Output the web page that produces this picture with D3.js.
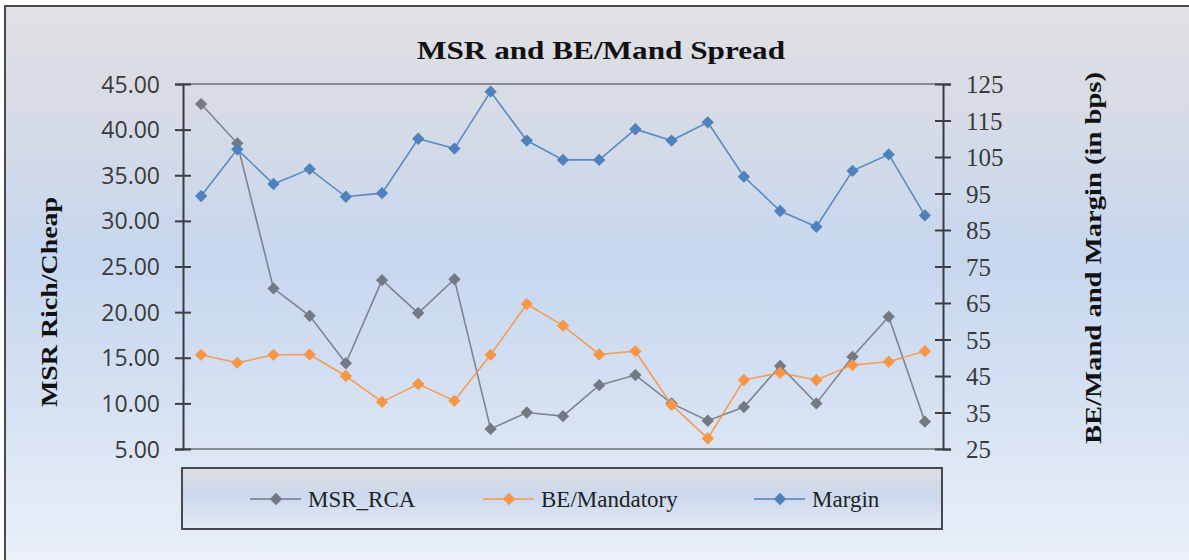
<!DOCTYPE html>
<html>
<head>
<meta charset="utf-8">
<script src="https://cdn.jsdelivr.net/npm/d3@7/dist/d3.min.js"></script>
<style>
  html, body { margin: 0; padding: 0; background: #fff; }
  svg { display: block; }
  .serif { font-family: "Liberation Serif", "DejaVu Serif", serif; }
</style>
</head>
<body>
<svg id="chart" width="1189" height="560"></svg>
<script>
// periods (no labels shown on the category axis)
const categories = ["1", "2", "3", "4", "5", "6", "7", "8", "9", "10", "11",
  "12", "13", "14", "15", "16", "17", "18", "19", "20", "21"];

// left axis series
const msrRca = [42.8, 38.5, 22.6, 19.6, 14.4, 23.5, 19.9, 23.6, 7.2, 9.0, 8.6,
  12.0, 13.1, 10.0, 8.1, 9.6, 14.1, 10.0, 15.1, 19.5, 8.0];

// right axis series (bps)
const beMandatory = [50.8, 48.6, 50.8, 50.9, 45.0, 37.9, 42.8, 38.2, 50.8, 64.7, 58.8,
  50.9, 51.8, 37.1, 27.9, 43.9, 45.9, 43.9, 48.0, 48.9, 51.8];
const margin = [94.3, 107.1, 97.6, 101.7, 94.1, 95.1, 110.0, 107.3, 122.9, 109.5, 104.2,
  104.2, 112.6, 109.5, 114.5, 99.6, 90.2, 85.9, 101.2, 105.7, 89.0];

const leftTicks = [5, 10, 15, 20, 25, 30, 35, 40, 45];
const rightTicks = [25, 35, 45, 55, 65, 75, 85, 95, 105, 115, 125];

const seriesNames = ["MSR_RCA", "BE/Mandatory", "Margin"];
const seriesColors = ["#737a84", "#f79646", "#4f81bd"];

const W = 1189, H = 560;
const plot = { left: 183, right: 943, top: 84, bottom: 449 };

const svg = d3.select("#chart");
const defs = svg.append("defs");

// chart background gradient
const bg = defs.append("linearGradient").attr("id", "bgGrad")
  .attr("x1", 0).attr("y1", 0).attr("x2", 0).attr("y2", 1);
[["0%", "#e0e1e5"], ["14%", "#d9dce4"], ["45%", "#c7d7ef"], ["75%", "#d8e3f3"], ["100%", "#ebf0f8"]]
  .forEach(([o, c]) => bg.append("stop").attr("offset", o).attr("stop-color", c));

const lg = defs.append("linearGradient").attr("id", "legGrad")
  .attr("x1", 0).attr("y1", 0).attr("x2", 0).attr("y2", 1);
[["0%", "#dcdde1"], ["45%", "#cbd8ee"], ["100%", "#e4eaf4"]]
  .forEach(([o, c]) => lg.append("stop").attr("offset", o).attr("stop-color", c));

svg.append("rect").attr("x", 5).attr("y", 6).attr("width", W).attr("height", H)
  .attr("fill", "url(#bgGrad)");

// outer frame (left and top edges visible)
svg.append("path")
  .attr("d", `M5,${H} V6 H${W}`)
  .attr("fill", "none").attr("stroke", "#4a4a4e").attr("stroke-width", 2);

// scales
const x = d3.scaleBand().domain(categories).range([plot.left, plot.right]);
const yL = d3.scaleLinear().domain([5, 45]).range([plot.bottom, plot.top]);
const yR = d3.scaleLinear().domain([25, 125]).range([plot.bottom, plot.top]);
const cx = d => x(d) + x.bandwidth() / 2;

// plot frame lines
svg.append("line").attr("x1", plot.left).attr("x2", plot.right)
  .attr("y1", plot.top).attr("y2", plot.top)
  .attr("stroke", "#6d7077").attr("stroke-width", 1.5);
svg.append("line").attr("x1", plot.left).attr("x2", plot.right)
  .attr("y1", plot.bottom).attr("y2", plot.bottom)
  .attr("stroke", "#6d7077").attr("stroke-width", 1.5);

// left axis
const axL = svg.append("g").attr("transform", `translate(${plot.left},0)`)
  .call(d3.axisLeft(yL).tickValues(leftTicks).tickSize(8).tickFormat(d3.format(".2f")));
axL.attr("font-family", null).attr("font-size", null);
axL.select(".domain").attr("stroke", "#3b3d42").attr("stroke-width", 2);
axL.selectAll(".tick line").attr("x1", -8).attr("x2", 8)
  .attr("stroke", "#3b3d42").attr("stroke-width", 2);
axL.selectAll(".tick text").attr("x", -23).attr("dy", "0.35em")
  .style("font-family", "'Open Sans', 'Noto Sans', sans-serif")
  .style("font-size", "23px").attr("fill", "#3a3a3a");

// right axis
const axR = svg.append("g").attr("transform", `translate(${plot.right},0)`)
  .call(d3.axisRight(yR).tickValues(rightTicks).tickSize(8));
axR.attr("font-family", null).attr("font-size", null);
axR.select(".domain").attr("stroke", "#3b3d42").attr("stroke-width", 2);
axR.selectAll(".tick line").attr("x1", -8).attr("x2", 8)
  .attr("stroke", "#3b3d42").attr("stroke-width", 2);
axR.selectAll(".tick text").attr("x", 23).attr("dy", "0.35em")
  .attr("class", "serif")
  .style("font-size", "25px").attr("fill", "#3a3a3a");
svg.selectAll(".domain").attr("fill", "none");

// titles
svg.append("text").attr("class", "serif").attr("x", 601).attr("y", 59)
  .attr("text-anchor", "middle")
  .attr("textLength", 368).attr("lengthAdjust", "spacingAndGlyphs")
  .style("font-weight", "bold").style("font-size", "26px").attr("fill", "#111")
  .text("MSR and BE/Mand Spread");

svg.append("text").attr("class", "serif").attr("transform", "translate(57,302) rotate(-90)")
  .attr("text-anchor", "middle")
  .attr("textLength", 210).attr("lengthAdjust", "spacingAndGlyphs")
  .style("font-weight", "bold").style("font-size", "24px").attr("fill", "#111")
  .text("MSR Rich/Cheap");

svg.append("text").attr("class", "serif").attr("transform", "translate(1101,258) rotate(-90)")
  .attr("text-anchor", "middle")
  .attr("textLength", 372).attr("lengthAdjust", "spacingAndGlyphs")
  .style("font-weight", "bold").style("font-size", "24px").attr("fill", "#111")
  .text("BE/Mand and Margin (in bps)");

// series
const diamond = d3.symbol().type(d3.symbolSquare).size(76);
const series = [
  { values: msrRca, y: yL, color: seriesColors[0] },
  { values: beMandatory, y: yR, color: seriesColors[1] },
  { values: margin, y: yR, color: seriesColors[2] },
];

series.forEach(s => {
  const pts = categories.map((c, i) => [cx(c), s.y(s.values[i])]);
  svg.append("path").datum(pts)
    .attr("fill", "none").attr("stroke", s.color).attr("stroke-width", 1.6)
    .attr("stroke-opacity", 0.9)
    .attr("d", d3.line());
  svg.append("g").selectAll("path").data(pts).join("path")
    .attr("d", diamond)
    .attr("transform", d => `translate(${d[0]},${d[1]}) rotate(45)`)
    .attr("fill", s.color);
});

// legend
const leg = svg.append("g");
leg.append("rect").attr("x", 182).attr("y", 468).attr("width", 760).attr("height", 61)
  .attr("fill", "url(#legGrad)").attr("stroke", "#48494d").attr("stroke-width", 2);

const legendX = [250, 483, 754];
seriesNames.forEach((name, i) => {
  const g = leg.append("g").attr("transform", `translate(${legendX[i]},499)`);
  g.append("line").attr("x1", 0).attr("x2", 51).attr("y1", 0).attr("y2", 0)
    .attr("stroke", seriesColors[i]).attr("stroke-width", 1.6);
  g.append("path").attr("d", diamond)
    .attr("transform", "translate(26,0) rotate(45)")
    .attr("fill", seriesColors[i]);
  g.append("text").attr("class", "serif").attr("x", 58).attr("y", 0).attr("dy", "0.35em")
    .style("font-size", "23px").attr("fill", "#222")
    .text(name);
});
</script>
</body>
</html>
